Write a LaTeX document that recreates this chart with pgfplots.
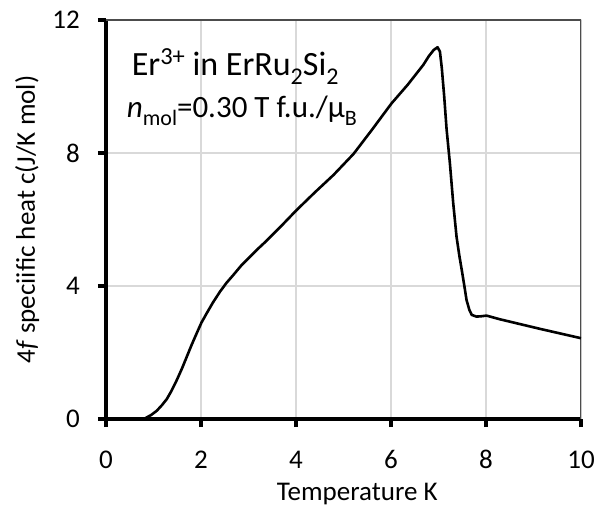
\documentclass[border=0pt]{standalone}
\usepackage{fontspec}
\setmainfont{Carlito}
\usepackage{pgfplots}
\pgfplotsset{compat=1.18}
\newcommand\supa[1]{\raisebox{11bp}{\fontsize{24.5bp}{24.5bp}\selectfont #1}}
\newcommand\suba[1]{\raisebox{-9bp}{\fontsize{24bp}{24bp}\selectfont #1}}
\newcommand\subb[1]{\raisebox{-8bp}{\fontsize{22bp}{22bp}\selectfont #1}}
\pgfplotstableread{
x y
0 0
0.8 0
0.86 0.05
0.95 0.12
1.07 0.25
1.18 0.42
1.28 0.6
1.38 0.85
1.49 1.17
1.60 1.52
1.70 1.87
1.80 2.22
1.91 2.58
2.01 2.90
2.12 3.18
2.25 3.50
2.40 3.83
2.54 4.10
2.68 4.33
2.85 4.62
3.03 4.88
3.20 5.12
3.38 5.36
3.70 5.82
4.01 6.28
4.40 6.82
4.79 7.34
5.21 7.97
5.60 8.70
6.01 9.49
6.35 10.05
6.68 10.65
6.80 10.92
6.90 11.10
6.98 11.18
7.03 11.05
7.07 10.55
7.12 9.7
7.17 8.72
7.24 7.69
7.31 6.49
7.38 5.48
7.44 4.9
7.49 4.48
7.55 3.95
7.59 3.58
7.65 3.28
7.70 3.13
7.80 3.08
7.90 3.09
8.01 3.11
8.29 3.00
8.70 2.86
9.14 2.71
9.6 2.56
10 2.43
}\heat
\begin{document}
\begin{tikzpicture}
\begin{axis}[
  width=475bp, height=399bp, scale only axis,
  xmin=0, xmax=10, ymin=0, ymax=12,
  xtick={0,2,4,6,8,10}, ytick={0,4,8,12},
  axis x line*=bottom, axis y line*=left,
  axis line style={line width=4.5bp, black},
  tick align=outside, major tick length=8bp,
  tick style={line width=4bp, black},
  grid=major, grid style={draw=gray!30, line width=1.3bp},
  /pgf/number format/assume math mode=true,
  tick label style={font=\fontsize{27bp}{32bp}\selectfont, inner sep=0pt},
  xticklabel style={anchor=base, yshift=-41bp},
  yticklabel style={anchor=east, xshift=-18bp},
  xlabel={Temperature K},
  ylabel={4\textit{f} speciific heat c(J/K mol)},
  label style={font=\fontsize{27bp}{32bp}\selectfont, inner sep=0pt},
  xlabel style={at={(axis description cs:0.529,-0.203)}, anchor=base},
  ylabel style={at={(axis description cs:-0.166,0.5)}, anchor=center},
]
\draw[line width=1.2bp, black!70] (axis description cs:0,1) -- (axis description cs:1,1) -- (axis description cs:1,0);
\addplot[black, line width=2.6bp, line join=round] table[x=x,y=y] {\heat};
\node[anchor=base west, inner sep=0pt, font=\fontsize{34bp}{40bp}\selectfont] at (axis cs:0.54,10.32) {Er\supa{3+} in ErRu\suba{2}Si\suba{2}};
\node[anchor=base west, inner sep=0pt, font=\fontsize{31bp}{36bp}\selectfont] at (axis cs:0.436,9.08) {\textit{n}\subb{mol}=0.30 T f.u./μ\subb{B}};
\end{axis}
\pgfresetboundingbox
\path (current axis.south west) ++(-106bp,-88bp) rectangle ++(600bp,507bp);
\end{tikzpicture}
\end{document}
